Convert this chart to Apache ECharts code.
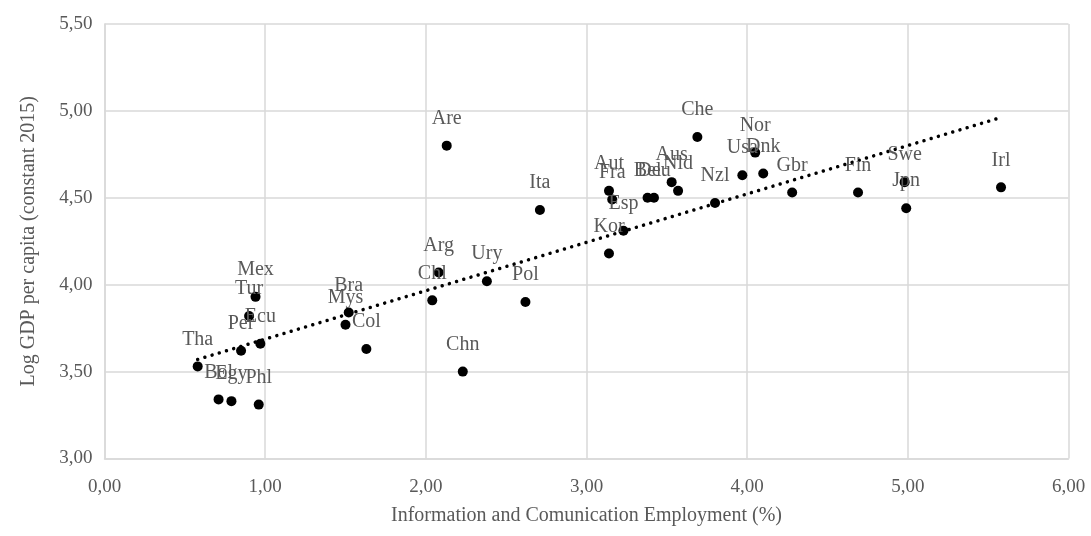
<!DOCTYPE html>
<html>
<head>
<meta charset="utf-8">
<script src="https://cdn.jsdelivr.net/npm/echarts@6/dist/echarts.min.js"></script>
<style>
  html, body { margin: 0; padding: 0; background: #ffffff; }
  #chart { width: 1091px; height: 536px; }
</style>
</head>
<body>
<div id="chart"></div>
<script>
// Country codes, ICT employment share (%) and log GDP per capita
const countries = ['Tha','Bol','Egy','Phl','Per','Ecu','Tur','Mex','Bra','Mys','Col','Chn','Chl','Arg','Ury','Pol','Are','Ita','Kor','Esp','Fra','Aut','Bel','Deu','Aus','Nld','Nzl','Che','Usa','Nor','Dnk','Gbr','Fin','Swe','Jpn','Irl'];
const ictShare  = [0.58, 0.71, 0.79, 0.96, 0.85, 0.97, 0.90, 0.94, 1.52, 1.50, 1.63, 2.23, 2.04, 2.08, 2.38, 2.62, 2.13, 2.71, 3.14, 3.23, 3.16, 3.14, 3.38, 3.42, 3.53, 3.57, 3.80, 3.69, 3.97, 4.05, 4.10, 4.28, 4.69, 4.98, 4.99, 5.58];
const logGdp    = [3.53, 3.34, 3.33, 3.31, 3.62, 3.66, 3.82, 3.93, 3.84, 3.77, 3.63, 3.50, 3.91, 4.07, 4.02, 3.90, 4.80, 4.43, 4.18, 4.31, 4.49, 4.54, 4.50, 4.50, 4.59, 4.54, 4.47, 4.85, 4.63, 4.76, 4.64, 4.53, 4.53, 4.59, 4.44, 4.56];

const xTicks = [0, 1, 2, 3, 4, 5, 6];
const yTicks = [3.0, 3.5, 4.0, 4.5, 5.0, 5.5];

// Ordinary least-squares linear trend across the observed x range
function linearTrend(xs, ys) {
  const n = xs.length;
  const mx = xs.reduce((a, b) => a + b, 0) / n;
  const my = ys.reduce((a, b) => a + b, 0) / n;
  let sxy = 0, sxx = 0;
  for (let i = 0; i < n; i++) {
    sxy += (xs[i] - mx) * (ys[i] - my);
    sxx += (xs[i] - mx) * (xs[i] - mx);
  }
  const slope = sxy / sxx;
  const icpt = my - slope * mx;
  const x0 = Math.min(...xs), x1 = Math.max(...xs);
  return [[x0, icpt + slope * x0], [x1, icpt + slope * x1]];
}

const points = countries.map((c, i) => ({ name: c, value: [ictShare[i], logGdp[i]] }));
const trend = linearTrend(ictShare, logGdp);

const fmt = v => v.toFixed(2).replace('.', ',');
const FONT = '"Liberation Serif", "DejaVu Serif", serif';
const TEXT = '#595959';
const GRID = '#d9d9d9';

const chart = echarts.init(document.getElementById('chart'), null, { renderer: 'canvas' });
chart.setOption({
  animation: false,
  backgroundColor: '#ffffff',
  grid: { left: 104.5, right: 22.5, top: 24, bottom: 77.5, containLabel: false },
  xAxis: {
    type: 'value',
    min: xTicks[0], max: xTicks[xTicks.length - 1], interval: 1,
    name: 'Information and Comunication Employment (%)',
    nameLocation: 'middle', nameGap: 47,
    nameTextStyle: { color: TEXT, fontFamily: FONT, fontSize: 20 },
    axisLine: { show: true, lineStyle: { color: GRID, width: 1.5 } },
    axisTick: { show: false },
    axisLabel: { color: TEXT, fontFamily: FONT, fontSize: 19, margin: 19, formatter: fmt },
    splitLine: { show: true, lineStyle: { color: GRID, width: 1.5 } }
  },
  yAxis: {
    type: 'value',
    min: yTicks[0], max: yTicks[yTicks.length - 1], interval: 0.5,
    name: 'Log GDP per capita (constant 2015)',
    nameLocation: 'middle', nameGap: 66, nameRotate: 90,
    nameTextStyle: { color: TEXT, fontFamily: FONT, fontSize: 20 },
    axisLine: { show: true, lineStyle: { color: GRID, width: 1.5 } },
    axisTick: { show: false },
    axisLabel: { color: TEXT, fontFamily: FONT, fontSize: 19, margin: 12, formatter: fmt },
    splitLine: { show: true, lineStyle: { color: GRID, width: 1.5 } }
  },
  series: [
    {
      type: 'line',
      data: trend,
      symbol: 'none',
      silent: true,
      z: 3,
      lineStyle: { color: '#000000', width: 3.5, type: [0.01, 7.5], cap: 'round' }
    },
    {
      type: 'scatter',
      data: points,
      symbol: 'circle',
      symbolSize: 10,
      z: 4,
      itemStyle: { color: '#000000', opacity: 1 },
      label: {
        show: true,
        position: 'top',
        distance: 12,
        formatter: p => p.name,
        color: TEXT,
        fontFamily: FONT,
        fontSize: 20
      }
    }
  ]
});
</script>
</body>
</html>
